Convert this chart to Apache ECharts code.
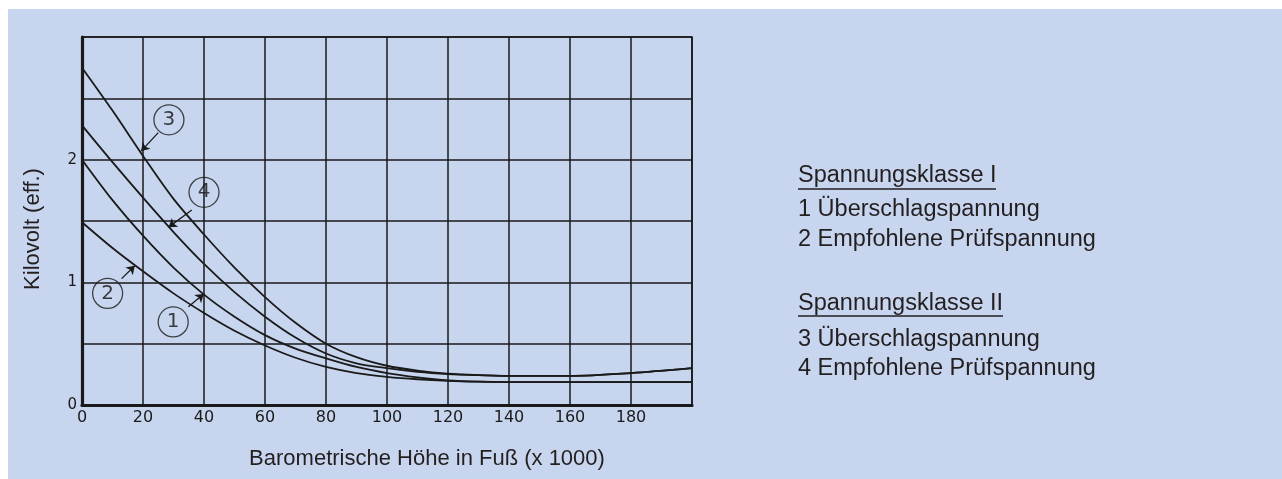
<!DOCTYPE html>
<html><head><meta charset="utf-8">
<script src="https://cdn.jsdelivr.net/npm/echarts@6/dist/echarts.min.js"></script>
<style>
html,body{margin:0;padding:0;background:#fff;width:1282px;height:479px;overflow:hidden}
#c{position:absolute;left:8px;top:9px;width:1274px;height:470px;background:#c7d5ee}
</style></head><body><div id="c"></div>
<script>
// altitude (x 1000 ft)
const altitude = [0,10,20,30,40,50,60,70,80,90,100,110,120,130,140,160,180,200];
// kV values per curve
const curve3 = [2.75,2.40,2.03,1.68,1.39,1.12,0.88,0.67,0.50,0.39,0.32,0.28,0.255,0.243,0.237,0.237,0.26,0.30];
const curve4 = [2.28,1.98,1.69,1.41,1.15,0.92,0.72,0.55,0.42,0.34,0.30,0.27,0.252,0.243,0.237,0.237,0.26,0.30];
const curve1 = [2.00,1.67,1.38,1.12,0.90,0.72,0.57,0.46,0.38,0.31,0.26,0.225,0.20,0.19,0.187,0.187,0.187,0.187];
const curve2 = [1.49,1.28,1.09,0.91,0.75,0.605,0.485,0.385,0.31,0.26,0.23,0.21,0.197,0.19,0.187,0.187,0.187,0.187];
const xTickLabels = ['0','20','40','60','80','100','120','140','160','180'];
const yTickLabels = ['0','1','2'];
// circled curve labels: [x, y, text] and leader lines [fromX, fromY, toX, toY]
const curveLabels = [[28.5,2.325,'3'],[40.0,1.734,'4'],[8.4,0.91,'2'],[29.9,0.677,'1']];
const leaders = [[25.0,2.22,19.4,2.07],[36.0,1.59,28.4,1.45],[13.0,1.03,17.3,1.135],[34.9,0.80,39.9,0.905]];
const legendLines = ['Spannungsklasse I','1 Überschlagspannung','2 Empfohlene Prüfspannung','Spannungsklasse II','3 Überschlagspannung','4 Empfohlene Prüfspannung'];
const xTitle = 'Barometrische Höhe in Fuß (x 1000)';
const yTitle = 'Kilovolt (eff.)';

const ink = '#1a1a1a';
const txt = '#231f20';
const chart = echarts.init(document.getElementById('c'));
const mk = arr => altitude.map((x,i)=>[x,arr[i]]);
const lineSeries = [curve1,curve2,curve3,curve4].map(c=>({
  type:'line', data:mk(c), smooth:0.3, showSymbol:false, silent:true,
  lineStyle:{color:ink,width:1.8}, z:3
}));
const legendY = [167,201,231,295,331,360];
const graphics = legendLines.map((t,i)=>({
  type:'text', x:790, y:legendY[i],
  style:{text:t, font:'23.5px "Liberation Sans", Arial, sans-serif', fill:txt, align:'left', verticalAlign:'middle'}
}));
graphics.push({type:'line', shape:{x1:790,y1:180,x2:988,y2:180}, style:{stroke:txt,lineWidth:1.5}});
graphics.push({type:'line', shape:{x1:790,y1:307,x2:995,y2:307}, style:{stroke:txt,lineWidth:1.5}});
graphics.push({type:'text', x:419, y:450, style:{text:xTitle, font:'22px "Liberation Sans", Arial, sans-serif', fill:txt, align:'center', verticalAlign:'middle'}});
graphics.push({type:'text', x:25, y:220, rotation:Math.PI/2, style:{text:yTitle, font:'22px "Liberation Sans", Arial, sans-serif', fill:txt, align:'center', verticalAlign:'middle'}});

chart.setOption({
  animation:false,
  backgroundColor:'#c7d5ee',
  grid:{left:74, top:28, width:610, height:368, containLabel:false, outerBoundsMode:'none',
        show:true, borderColor:ink, borderWidth:1.6, backgroundColor:'transparent'},
  xAxis:{type:'value', min:0, max:200, interval:20,
    axisLine:{show:true, onZero:false, lineStyle:{color:ink,width:3.2}},
    axisTick:{show:false},
    splitLine:{show:true, lineStyle:{color:ink,width:1.5}},
    axisLabel:{margin:5, color:ink, fontSize:16, fontFamily:'DejaVu Sans',
      formatter:v=>{const s=String(v);return xTickLabels.includes(s)?s:'';}}
  },
  yAxis:{type:'value', min:0, max:3, interval:0.5,
    axisLine:{show:true, onZero:false, lineStyle:{color:ink,width:3.2}},
    axisTick:{show:false},
    splitLine:{show:true, lineStyle:{color:ink,width:1.5}},
    axisLabel:{margin:5, color:ink, fontSize:15, fontFamily:'DejaVu Sans',
      formatter:v=>{const s=String(v);return yTickLabels.includes(s)?s:'';}}
  },
  graphic:graphics,
  series:[...lineSeries,
    {type:'scatter', data:curveLabels, symbol:'circle', symbolSize:30, silent:true, z:5,
     itemStyle:{color:'rgba(0,0,0,0)', borderColor:ink, borderWidth:1.3},
     label:{show:true, position:'inside', formatter:p=>p.value[2], color:'#111', fontSize:20, fontFamily:'DejaVu Sans'},
     markLine:{silent:true, symbol:['none','arrow'], symbolSize:8, label:{show:false},
       lineStyle:{color:ink,width:1.3,type:'solid'}, animation:false,
       data:leaders.map(l=>[{coord:[l[0],l[1]]},{coord:[l[2],l[3]]}])}
    }
  ]
});
</script></body></html>
